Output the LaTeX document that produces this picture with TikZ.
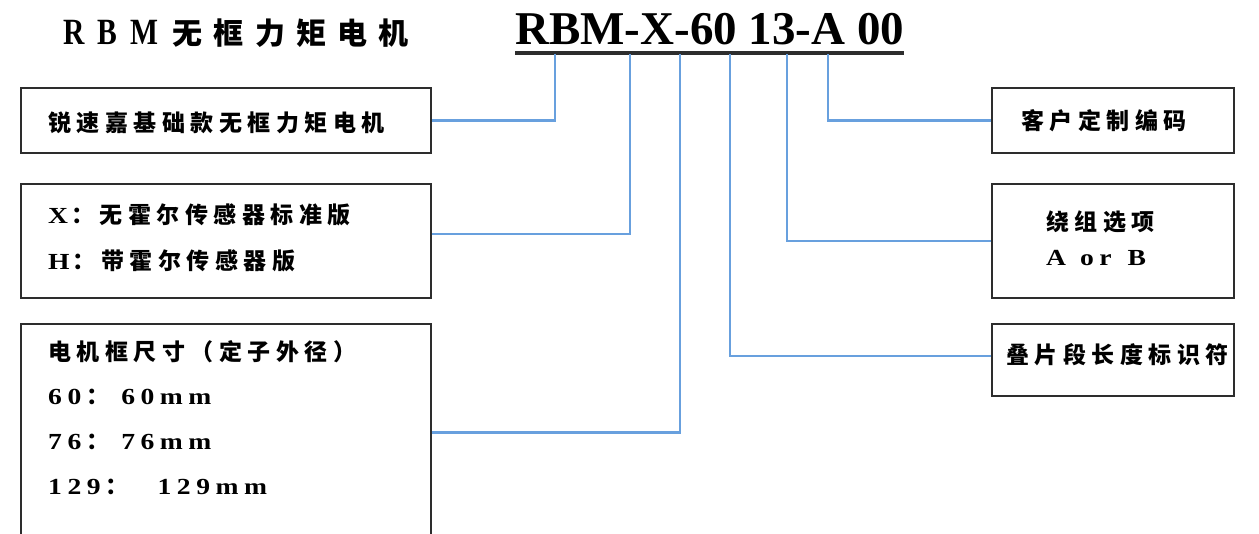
\documentclass[tikz,border=0pt]{standalone}
\usepackage{fontspec}
\setmainfont{Liberation Serif}
\newfontfamily\zh{Noto Sans CJK SC}[LetterSpace=24]
\newfontfamily\zhtitle{Noto Sans CJK SC}[LetterSpace=37]
\newfontfamily\en{Liberation Serif}[FakeStretch=1.2, LetterSpace=24]
\newfontfamily\entitle{Liberation Serif}[FakeStretch=0.8, LetterSpace=36]
\usetikzlibrary{positioning, calc}
\definecolor{linkblue}{RGB}{104,160,222}
\definecolor{boxgray}{RGB}{45,45,45}
\tikzset{
  box/.style 2 args={draw=boxgray, line width=2.2pt, anchor=north west, inner sep=0pt,
    minimum width=#1, minimum height=#2},
  link/.style={draw=linkblue, line width=2.4pt},
  txt/.style={anchor=base west, inner sep=0pt, font=\bfseries\fontsize{23}{23}\selectfont},
}

\begin{document}
\begin{tikzpicture}[x=1pt, y=-1pt]
\useasboundingbox (0,0) rectangle (1259,534);
% heading and model code
\node[anchor=base west, inner sep=0pt] (title) at (63,45)
  {\bfseries{\fontsize{37}{37}\selectfont\entitle RBM}\hspace{14pt}{\fontsize{30}{30}\selectfont\zhtitle 无框力矩电机}};
\node[anchor=base west, inner sep=0pt] (model) at (515,45)
  {\bfseries\fontsize{47}{47}\selectfont RBM-X-60 13-A 00};
\draw[boxgray, line width=4.5pt] ([yshift=-7.5pt]model.south west) -- ([yshift=-7.5pt]model.south east);

% left boxes
\node[box={410pt}{65pt}] (series) at (20,87) {};
\node[box={410pt}{114pt}] (sensor) at (20,183) {};
\node[box={410pt}{222pt}] (size) at (20,323) {};
\node[txt] (seriesA) at (48,132) {\zh 锐速嘉基础款无框力矩电机};
\node[txt] (sensorA) at (48,224) {{\en X}\hspace{3pt}{\zh ：无霍尔传感器标准版}};
\node[txt] (sensorB) at (48,270) {{\en H}\hspace{3pt}{\zh ：带霍尔传感器版}};
\node[txt] (sizeA) at (48,361) {\zh 电机框尺寸（定子外径）};
\node[txt] (sizeB) at (48,405) {{\en 60}\hspace{5pt}{\zh ：}\hspace{12pt}{\en 60mm}};
\node[txt] (sizeC) at (48,450) {{\en 76}\hspace{5pt}{\zh ：}\hspace{12pt}{\en 76mm}};
\node[txt] (sizeD) at (48,494) {{\en 129}\hspace{5pt}{\zh ：}\hspace{29pt}{\en 129mm}};

% right boxes
\node[box={242pt}{65pt}] (custom) at (991,87) {};
\node[box={242pt}{114pt}] (winding) at (991,183) {};
\node[box={242pt}{72pt}] (stack) at (991,323) {};
\node[txt] (customA) at (1021,130) {\zh 客户定制编码};
\node[txt] (windingA) at (1046,231) {\zh 绕组选项};
\node[txt] (windingB) at (1046,266) {\en A\hspace{14pt}or\hspace{16pt}B};
\node[txt] (stackA) at (1006,364) {\zh 叠片段长度标识符};

% connectors
\coordinate (pSeries) at (555,54);
\coordinate (pSensor) at (630,54);
\coordinate (pSize) at (680,54);
\coordinate (pStack) at (730,54);
\coordinate (pWind) at (787,54);
\coordinate (pCustom) at (828,54);
\draw[link] (pSeries) |- (series.east);
\draw[link] (pSensor) |- ([yshift=7pt]sensor.east);
\draw[link] (pSize) |- ([yshift=2.5pt]size.east);
\draw[link] (pStack) |- ([yshift=4pt]stack.west);
\draw[link] (pWind) |- (winding.west);
\draw[link] (pCustom) |- (custom.west);
\end{tikzpicture}
\end{document}
